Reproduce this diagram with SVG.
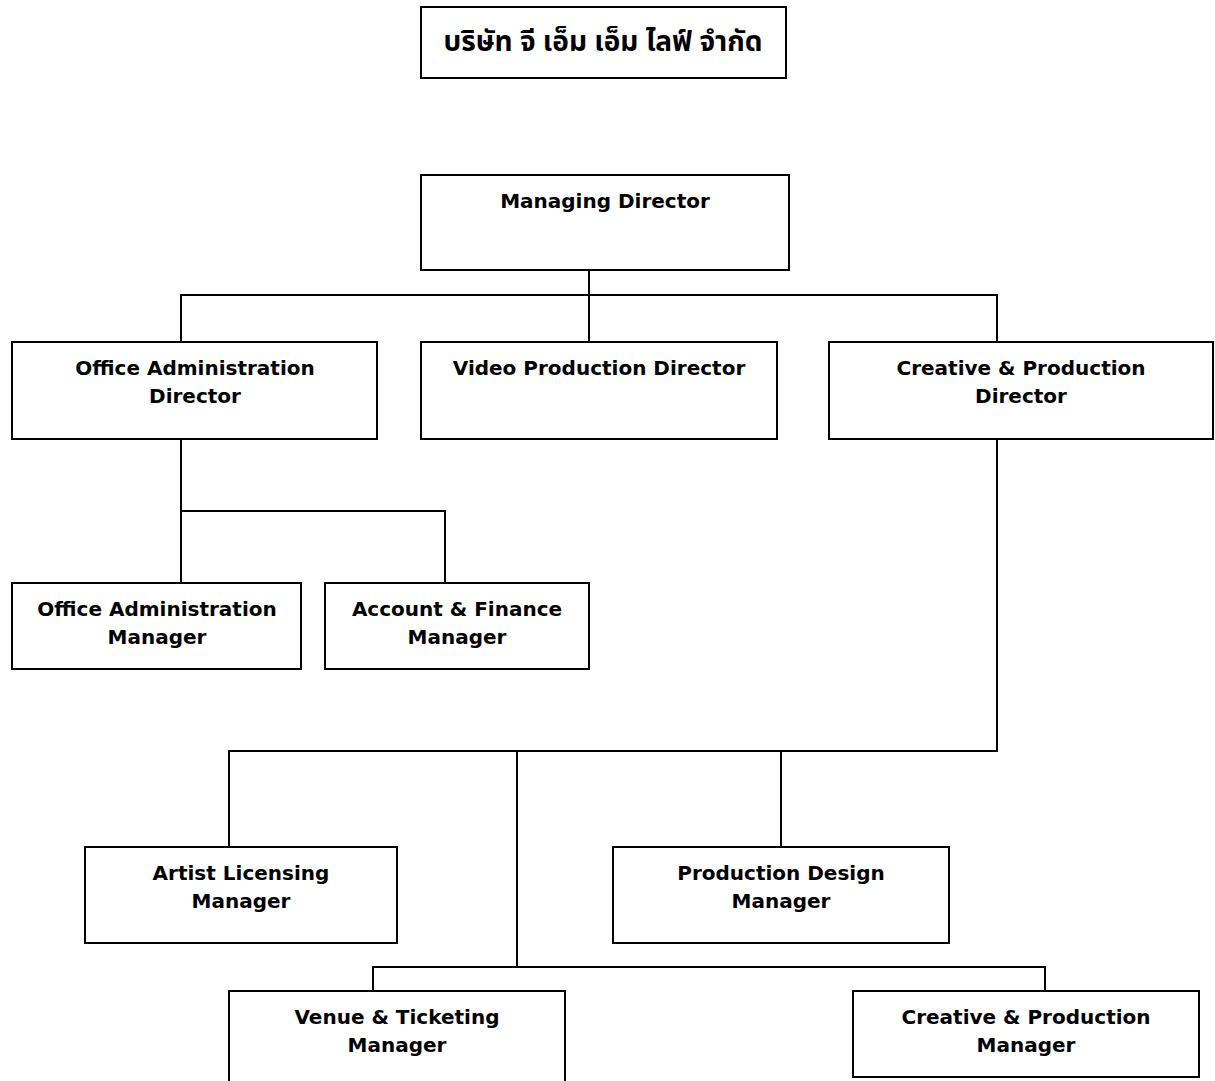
<svg xmlns="http://www.w3.org/2000/svg" width="1215" height="1081" viewBox="0 0 1215 1081">
<style>
rect{fill:#fff;stroke:#000;stroke-width:2}
.c path{fill:none;stroke:#000;stroke-width:2}
text{font-family:"DejaVu Sans",Verdana,sans-serif;font-weight:bold;font-size:20px;fill:#000;text-anchor:middle}
.th{font-family:Tahoma,"Noto Sans Thai","Noto Sans","DejaVu Sans",sans-serif;font-size:28px}
</style>
<rect x="0" y="0" width="1215" height="1081" style="stroke:none"/>
<g class="c" id="connectors">
<path d="M589 270V342M181 342V295H997V342"/>
<path d="M181 439V583M181 511H445V583"/>
<path d="M997 439V751H229V847M781 751V847M517 751V967"/>
<path d="M373 991V967H1045V991"/>
</g>
<g id="company"><rect x="421" y="7" width="365" height="71"/><text class="th" x="603" y="51">บริษัท จี เอ็ม เอ็ม ไลฟ์ จำกัด</text></g>
<g id="md"><rect x="421" y="175" width="368" height="95"/><text x="605" y="208">Managing Director</text></g>
<g id="oad"><rect x="12" y="342" width="365" height="97"/><text x="195" y="375">Office Administration</text><text x="195" y="403">Director</text></g>
<g id="vpd"><rect x="421" y="342" width="356" height="97"/><text x="599" y="375">Video Production Director</text></g>
<g id="cpd"><rect x="829" y="342" width="384" height="97"/><text x="1021" y="375">Creative &amp; Production</text><text x="1021" y="403">Director</text></g>
<g id="oam"><rect x="12" y="583" width="289" height="86"/><text x="157" y="616">Office Administration</text><text x="157" y="644">Manager</text></g>
<g id="afm"><rect x="325" y="583" width="264" height="86"/><text x="457" y="616">Account &amp; Finance</text><text x="457" y="644">Manager</text></g>
<g id="alm"><rect x="85" y="847" width="312" height="96"/><text x="241" y="880">Artist Licensing</text><text x="241" y="908">Manager</text></g>
<g id="pdm"><rect x="613" y="847" width="336" height="96"/><text x="781" y="880">Production Design</text><text x="781" y="908">Manager</text></g>
<g id="vtm"><rect x="229" y="991" width="336" height="100"/><text x="397" y="1024">Venue &amp; Ticketing</text><text x="397" y="1052">Manager</text></g>
<g id="cpm"><rect x="853" y="991" width="346" height="86"/><text x="1026" y="1024">Creative &amp; Production</text><text x="1026" y="1052">Manager</text></g>
</svg>
